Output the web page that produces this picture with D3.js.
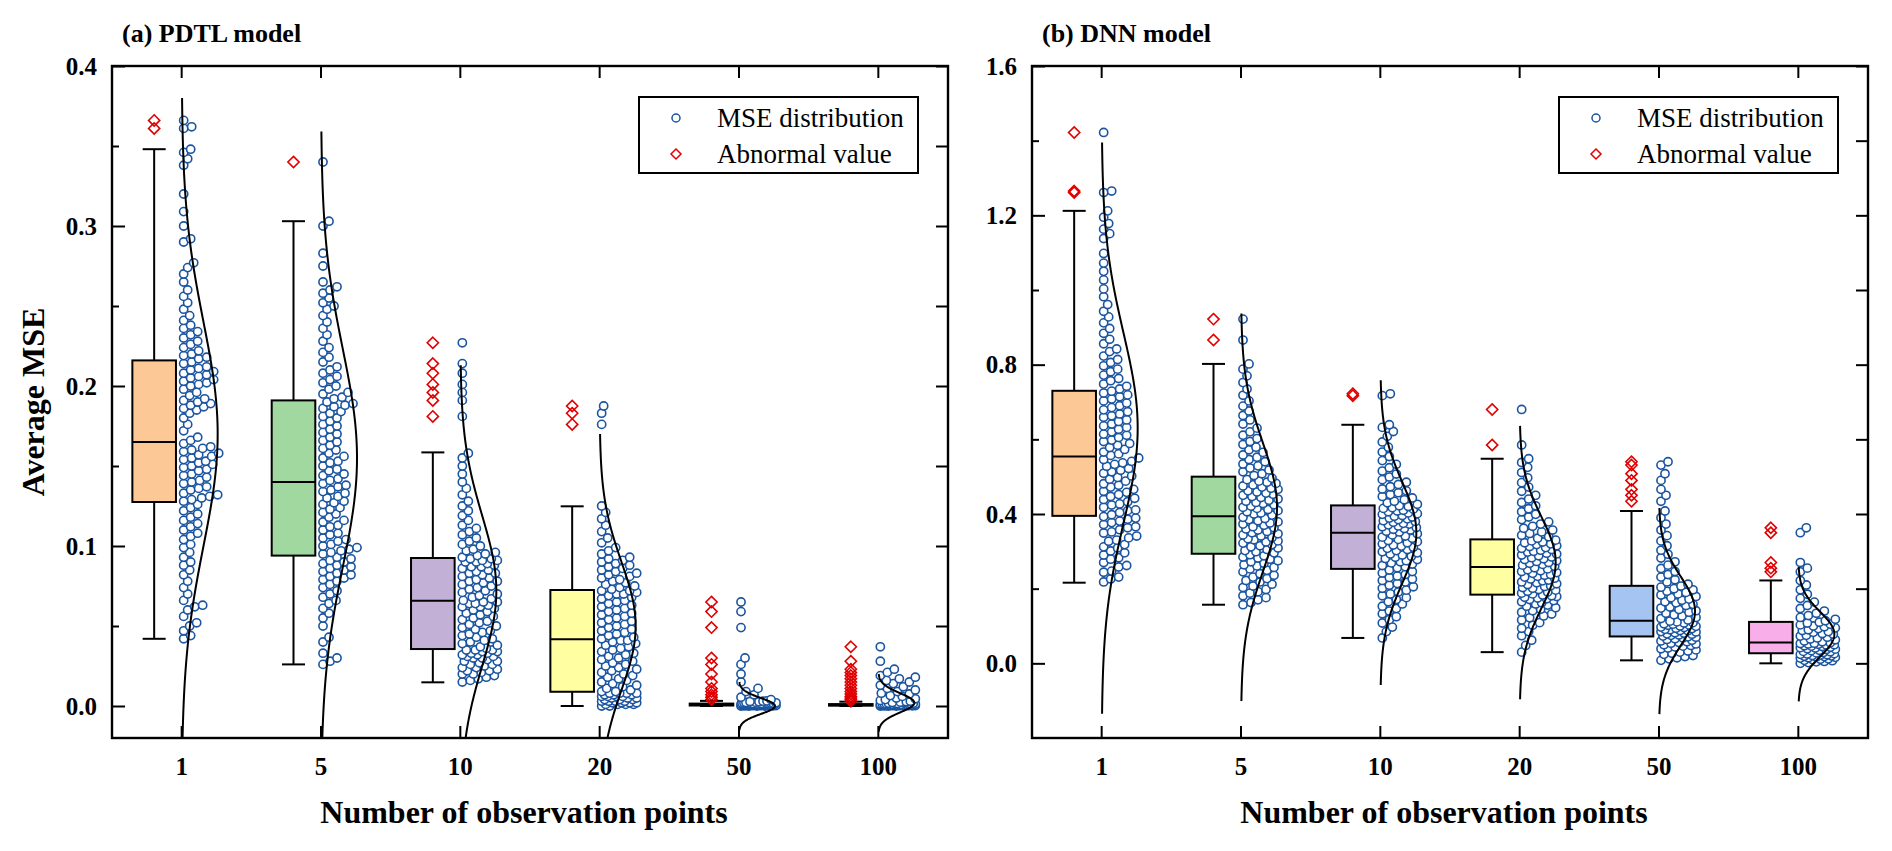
<!DOCTYPE html>
<html>
<head>
<meta charset="utf-8">
<script src="https://cdn.jsdelivr.net/npm/d3@7"></script>
<style>
  body { margin: 0; background: #fff; }
  text { font-family: "Liberation Serif", "Times New Roman", serif; }
</style>
</head>
<body>
<svg id="chart" width="1892" height="851"></svg>
<script>
// categories and colours
const categories = ["1", "5", "10", "20", "50", "100"];
const boxColors = ["#fcc896", "#a1d8a0", "#c3b0d6", "#ffffa2", "#a6c4f2", "#f8afe9"];

// ---- (a) PDTL model ----
const pdtlQ1 = [0.1275, 0.094, 0.0356, 0.0089, 0.0003, 0.0002];
const pdtlMedian = [0.165, 0.140, 0.0658, 0.0417, 0.0008, 0.0006];
const pdtlQ3 = [0.216, 0.191, 0.0925, 0.0725, 0.0015, 0.0012];
const pdtlLow = [0.042, 0.026, 0.0148, 0.0, 0.0, 0.0];
const pdtlHigh = [0.348, 0.303, 0.1585, 0.1248, 0.0032, 0.0027];
const pdtlOutliers = [
  [0.361, 0.366],
  [0.34],
  [0.181, 0.191, 0.196, 0.201, 0.208, 0.214, 0.227],
  [0.176, 0.183, 0.1875],
  [0.004, 0.0055, 0.007, 0.009, 0.011, 0.015, 0.02, 0.026, 0.03, 0.049, 0.059, 0.065],
  [0.003, 0.004, 0.005, 0.006, 0.0075, 0.009, 0.011, 0.013, 0.015, 0.017, 0.019, 0.021, 0.023, 0.028, 0.037]
];
const pdtlCurveMean = [0.17, 0.155, 0.072, 0.05, 0.0, 0.002];
const pdtlCurveSd = [0.07, 0.068, 0.047, 0.04, 0.005, 0.006];

const pdtl1 = [0.042,0.044,0.047,0.05,0.052,0.056,0.06,0.062,0.063,0.066,0.07,0.074,0.078,0.082,0.085,0.088,0.09,0.093,0.096,0.099,0.101,0.104,0.106,0.108,0.11,0.112,0.114,0.116,0.118,0.12,0.122,0.124,0.126,
  0.128,0.129,0.13,0.131,0.132,0.133,0.135,0.136,0.137,0.139,0.14,0.141,0.143,0.144,0.145,0.147,0.148,0.149,0.15,0.151,0.152,0.153,0.154,0.155,0.156,0.157,0.158,0.159,0.16,0.161,0.162,0.164,
  0.166,0.168,0.172,0.176,0.18,0.183,0.185,0.186,0.187,0.188,0.189,0.19,0.191,0.192,0.194,0.196,0.198,0.2,0.201,0.202,0.203,0.204,0.205,0.206,0.207,0.208,0.209,0.21,0.211,0.212,0.214,0.215,
  0.217,0.218,0.219,0.22,0.222,0.224,0.226,0.228,0.23,0.232,0.234,0.236,0.238,0.241,0.244,0.248,0.252,0.256,0.26,0.265,0.27,0.274,0.277,0.29,0.292,0.3,0.309,0.32,0.338,0.342,0.346,0.348,0.361,0.362,0.366];
const pdtl5 = [0.026,0.028,0.03,0.033,0.04,0.043,0.05,0.055,0.058,0.061,0.064,0.066,0.068,0.07,0.072,0.074,0.076,0.078,0.079,0.08,0.081,0.082,0.083,0.084,0.085,0.086,0.087,0.088,0.089,0.09,0.091,0.092,0.093,
  0.095,0.096,0.097,0.098,0.099,0.1,0.101,0.103,0.104,0.105,0.107,0.108,0.11,0.112,0.113,0.115,0.116,0.118,0.12,0.121,0.123,0.124,0.126,0.127,0.128,0.13,0.131,0.133,0.134,0.135,0.137,0.138,0.139,
  0.141,0.142,0.144,0.145,0.147,0.148,0.15,0.152,0.153,0.155,0.156,0.158,0.16,0.161,0.163,0.165,0.166,0.168,0.17,0.171,0.173,0.175,0.176,0.178,0.18,0.181,0.183,0.184,0.186,0.187,0.188,0.189,0.19,
  0.192,0.193,0.195,0.196,0.198,0.2,0.202,0.204,0.206,0.208,0.21,0.212,0.215,0.218,0.221,0.224,0.228,0.232,0.236,0.24,0.244,0.248,0.25,0.252,0.255,0.258,0.26,0.262,0.265,0.275,0.283,0.3,0.303,0.34];
const pdtl10 = [0.015,0.016,0.017,0.018,0.019,0.02,0.02,0.021,0.022,0.022,0.023,0.024,0.024,0.025,0.026,0.026,0.027,0.028,0.028,0.029,0.03,0.03,0.031,0.031,0.032,0.032,0.033,0.033,0.034,0.034,0.035,0.035,0.035,
  0.036,0.037,0.038,0.039,0.04,0.041,0.042,0.043,0.044,0.045,0.046,0.047,0.048,0.049,0.05,0.051,0.052,0.053,0.054,0.055,0.056,0.057,0.058,0.059,0.06,0.061,0.062,0.062,0.063,0.064,0.064,0.065,0.065,
  0.066,0.067,0.068,0.069,0.07,0.071,0.072,0.073,0.074,0.075,0.076,0.077,0.078,0.078,0.079,0.08,0.081,0.082,0.083,0.083,0.084,0.085,0.086,0.087,0.087,0.088,0.089,0.09,0.09,0.091,0.091,0.092,0.092,
  0.093,0.094,0.095,0.096,0.097,0.098,0.1,0.101,0.103,0.105,0.107,0.109,0.111,0.113,0.116,0.119,0.122,0.125,0.128,0.132,0.136,0.14,0.145,0.15,0.155,0.158,0.181,0.191,0.196,0.201,0.208,0.214,0.227];
const pdtl20 = [0.0,0.0,0.001,0.001,0.001,0.002,0.002,0.002,0.003,0.003,0.003,0.004,0.004,0.004,0.005,0.005,0.005,0.006,0.006,0.006,0.007,0.007,0.007,0.008,0.008,0.008,0.008,0.009,0.009,0.003,0.001,0.002,0.006,
  0.01,0.011,0.012,0.013,0.014,0.015,0.016,0.017,0.018,0.019,0.02,0.021,0.022,0.023,0.024,0.025,0.026,0.027,0.028,0.029,0.03,0.031,0.032,0.033,0.034,0.035,0.036,0.037,0.038,0.039,0.04,0.041,0.041,
  0.042,0.043,0.044,0.045,0.046,0.047,0.048,0.049,0.05,0.051,0.052,0.053,0.054,0.055,0.056,0.057,0.058,0.059,0.06,0.061,0.062,0.063,0.064,0.065,0.066,0.067,0.068,0.069,0.07,0.07,0.071,0.072,0.072,
  0.073,0.074,0.075,0.076,0.077,0.078,0.079,0.08,0.081,0.082,0.083,0.084,0.085,0.086,0.087,0.088,0.089,0.09,0.091,0.092,0.093,0.095,0.097,0.099,0.102,0.105,0.109,0.113,0.117,0.121,0.125,0.176,0.183,0.1875];
const pdtl50 = [0,0,0,0,0.0001,0.0002,0.0002,0.0003,0.0003,0.0004,0.0004,0.0005,0.0005,0.0006,0.0006,0.0007,0.0007,0.0008,0.0008,0.0008,0.0009,0.0009,0.001,0.001,0.0011,0.0011,0.0012,0.0012,0.0013,0.0013,0.0014,0.0014,0.0015,0.0015,0.0016,0.0017,0.0018,0.0019,0.002,0.0021,0.0022,0.0024,0.0026,0.0028,0.003,0.0032,
  0.0001,0.0003,0.0005,0.0007,0.0009,0.0011,0.0002,0.0004,0.0006,0.001,0.0012,0.0016,
  0.004,0.0055,0.007,0.009,0.011,0.015,0.02,0.026,0.03,0.049,0.059,0.065];
const pdtl100 = [0,0,0,0,0.0001,0.0001,0.0002,0.0002,0.0003,0.0003,0.0004,0.0004,0.0005,0.0005,0.0006,0.0006,0.0007,0.0007,0.0008,0.0008,0.0009,0.0009,0.001,0.001,0.0011,0.0011,0.0012,0.0012,0.0013,0.0014,0.0015,0.0016,0.0017,0.0018,0.002,0.0022,0.0024,0.0027,
  0.0002,0.0004,0.0006,0.0008,0.001,0.0003,0.0005,0.0007,
  0.003,0.004,0.005,0.006,0.0075,0.009,0.011,0.013,0.015,0.017,0.019,0.021,0.023,0.028,0.037,
  0.0035,0.0045,0.0065,0.008,0.01,0.012,0.014,0.016,0.018];
const pdtlPoints = [pdtl1, pdtl5, pdtl10, pdtl20, pdtl50, pdtl100];

// ---- (b) DNN model ----
const dnnQ1 = [0.395, 0.2935, 0.253, 0.184, 0.072, 0.027];
const dnnMedian = [0.554, 0.394, 0.350, 0.258, 0.114, 0.056];
const dnnQ3 = [0.730, 0.500, 0.423, 0.332, 0.2076, 0.111];
const dnnLow = [0.216, 0.157, 0.068, 0.030, 0.008, 0.0];
const dnnHigh = [1.212, 0.802, 0.639, 0.548, 0.408, 0.222];
const dnnOutliers = [
  [1.261, 1.265, 1.422],
  [0.866, 0.922],
  [0.717, 0.722],
  [0.585, 0.680],
  [0.434, 0.45, 0.466, 0.49, 0.508, 0.531, 0.54],
  [0.245, 0.255, 0.27, 0.35, 0.363]
];
const dnnCurveMean = [0.63, 0.418, 0.35, 0.27, 0.14, 0.078];
const dnnCurveSd = [0.255, 0.173, 0.136, 0.122, 0.092, 0.06];

const dnn1 = [0.218,0.226,0.231,0.244,0.247,0.258,0.262,0.27,0.279,0.283,0.29,0.296,0.301,0.309,0.312,0.318,0.327,0.33,0.336,0.341,0.349,0.352,0.358,0.363,0.366,0.372,0.377,0.381,0.386,0.389,0.393,
  0.398,0.404,0.409,0.411,0.418,0.424,0.427,0.433,0.439,0.442,0.447,0.452,0.458,0.461,0.466,0.472,0.477,0.481,0.488,0.493,0.498,0.502,0.509,0.513,0.517,0.522,0.528,0.533,0.537,0.541,0.546,0.55,
  0.557,0.561,0.566,0.573,0.578,0.584,0.589,0.594,0.598,0.605,0.611,0.614,0.62,0.627,0.632,0.636,0.641,0.648,0.652,0.659,0.663,0.668,0.674,0.679,0.685,0.69,0.697,0.703,0.708,0.714,0.719,0.724,0.729,
  0.735,0.742,0.748,0.757,0.763,0.772,0.781,0.788,0.797,0.806,0.814,0.823,0.835,0.842,0.856,0.868,0.884,0.897,0.912,0.928,0.943,0.961,0.982,1.003,1.027,1.05,1.072,1.098,1.138,1.151,1.163,1.178,1.195,1.212,1.261,1.265,1.422];
const dnn5 = [0.157,0.163,0.17,0.176,0.181,0.188,0.192,0.198,0.203,0.207,0.212,0.218,0.222,0.227,0.231,0.236,0.24,0.245,0.249,0.253,0.257,0.261,0.264,0.268,0.272,0.275,0.279,0.282,0.285,0.288,0.291,
  0.296,0.299,0.302,0.305,0.309,0.312,0.315,0.318,0.322,0.325,0.328,0.331,0.334,0.337,0.341,0.344,0.347,0.35,0.353,0.357,0.36,0.363,0.366,0.37,0.373,0.376,0.379,0.382,0.385,0.388,0.391,
  0.397,0.4,0.403,0.406,0.409,0.412,0.415,0.418,0.421,0.425,0.428,0.431,0.434,0.437,0.44,0.444,0.447,0.45,0.453,0.456,0.459,0.462,0.466,0.469,0.472,0.475,0.478,0.482,0.485,0.488,0.492,0.496,
  0.503,0.508,0.513,0.518,0.523,0.529,0.534,0.54,0.546,0.552,0.558,0.565,0.572,0.579,0.586,0.594,0.602,0.611,0.62,0.63,0.641,0.652,0.664,0.676,0.689,0.703,0.718,0.735,0.752,0.77,0.788,0.802,0.866,0.922];
const dnn10 = [0.068,0.085,0.097,0.108,0.117,0.125,0.133,0.14,0.147,0.153,0.159,0.165,0.171,0.176,0.181,0.186,0.191,0.196,0.201,0.205,0.209,0.214,0.218,0.222,0.226,0.23,0.234,0.238,0.242,0.246,0.25,
  0.256,0.259,0.262,0.266,0.269,0.272,0.275,0.278,0.281,0.284,0.287,0.29,0.293,0.296,0.299,0.302,0.305,0.308,0.311,0.314,0.317,0.32,0.323,0.326,0.329,0.332,0.335,0.338,0.341,0.344,0.347,
  0.352,0.354,0.357,0.359,0.361,0.364,0.366,0.368,0.371,0.373,0.375,0.378,0.38,0.382,0.385,0.387,0.389,0.392,0.394,0.396,0.399,0.401,0.403,0.406,0.408,0.41,0.413,0.415,0.417,0.42,0.422,
  0.426,0.43,0.434,0.438,0.443,0.447,0.452,0.457,0.462,0.467,0.473,0.479,0.485,0.492,0.499,0.507,0.515,0.524,0.533,0.543,0.554,0.566,0.579,0.593,0.608,0.621,0.632,0.639,0.717,0.722];
const dnn20 = [0.03,0.048,0.062,0.074,0.085,0.094,0.102,0.109,0.116,0.122,0.127,0.132,0.137,0.141,0.145,0.149,0.153,0.156,0.159,0.162,0.165,0.168,0.171,0.173,0.175,0.177,0.179,0.181,0.183,
  0.186,0.188,0.191,0.193,0.196,0.198,0.201,0.203,0.206,0.208,0.211,0.213,0.216,0.218,0.221,0.223,0.226,0.228,0.231,0.233,0.236,0.238,0.241,0.243,0.246,0.248,0.251,0.253,0.256,
  0.26,0.263,0.265,0.268,0.27,0.273,0.275,0.278,0.28,0.283,0.285,0.288,0.29,0.293,0.295,0.298,0.3,0.303,0.305,0.308,0.31,0.313,0.315,0.318,0.32,0.323,0.325,0.328,0.33,
  0.335,0.339,0.343,0.348,0.352,0.357,0.362,0.367,0.373,0.379,0.385,0.392,0.399,0.406,0.414,0.422,0.431,0.44,0.45,0.461,0.472,0.484,0.497,0.511,0.525,0.538,0.548,0.585,0.68];
const dnn50 = [0.008,0.012,0.015,0.018,0.021,0.024,0.027,0.03,0.033,0.036,0.039,0.041,0.044,0.046,0.048,0.05,0.052,0.054,0.056,0.058,0.06,0.062,0.064,0.066,0.068,0.07,0.071,
  0.073,0.075,0.076,0.078,0.079,0.081,0.082,0.084,0.085,0.087,0.088,0.09,0.091,0.093,0.094,0.096,0.097,0.099,0.1,0.102,0.103,0.105,0.106,0.108,0.109,0.111,0.113,
  0.116,0.12,0.123,0.127,0.13,0.134,0.137,0.141,0.144,0.148,0.151,0.155,0.158,0.162,0.165,0.169,0.172,0.176,0.179,0.183,0.186,0.19,0.193,0.197,0.2,0.204,0.207,
  0.212,0.218,0.224,0.231,0.238,0.246,0.254,0.263,0.272,0.282,0.292,0.303,0.315,0.328,0.342,0.357,0.373,0.39,0.408,0.434,0.45,0.466,0.49,0.508,0.531,0.54];
const dnn100 = [0.0,0.002,0.004,0.005,0.007,0.008,0.01,0.011,0.012,0.014,0.015,0.016,0.017,0.018,0.019,0.02,0.021,0.022,0.023,0.024,0.025,0.026,
  0.028,0.029,0.031,0.032,0.034,0.035,0.037,0.038,0.039,0.041,0.042,0.043,0.045,0.046,0.047,0.049,0.05,0.051,0.052,0.053,0.054,0.055,
  0.058,0.06,0.063,0.065,0.068,0.07,0.073,0.075,0.078,0.08,0.083,0.085,0.088,0.09,0.093,0.095,0.098,0.1,0.103,0.105,0.108,0.11,
  0.114,0.118,0.123,0.128,0.134,0.14,0.147,0.155,0.164,0.174,0.185,0.197,0.21,0.222,0.245,0.255,0.27,0.35,0.363];
const dnnPoints = [dnn1, dnn5, dnn10, dnn20, dnn50, dnn100];

const svg = d3.select("#chart");

// beeswarm: each point goes to the smallest offset right of the centre line that is free
function swarm(values, y, minOff, maxOff, d) {
  const placed = [];
  const sorted = values.slice().sort((a, b) => a - b);
  sorted.forEach(v => {
    const py = y(v);
    const near = placed.filter(q => Math.abs(q.y - py) < d);
    let best = minOff, bestD = -1;
    for (let x = minOff; x <= maxOff; x += 1) {
      let m = Infinity;
      near.forEach(q => { const dd = Math.hypot(q.x - x, q.y - py); if (dd < m) m = dd; });
      if (m >= d) { best = x; break; }
      if (m > bestD) { bestD = m; best = x; }
    }
    placed.push({ x: best, y: py });
  });
  return placed;
}

function drawPanel(p) {
  const g = svg.append("g");
  const x = d3.scaleBand().domain(categories).range([p.left, p.right]);
  const y = d3.scaleLinear().domain(p.domain).range([738, 66]);
  const cx = c => x(c) + x.bandwidth() / 2;
  const boxOff = -27.5, boxW = 43.6, capW = 23;

  // title
  g.append("text").attr("x", p.left + 10).attr("y", 42)
    .attr("font-size", 26).attr("font-weight", "bold").text(p.title);

  // scatter points
  categories.forEach((c, i) => {
    const pts = swarm(p.points[i], y, 2, 37, 7.4);
    g.append("g").selectAll("circle").data(pts).join("circle")
      .attr("cx", d => cx(c) + d.x).attr("cy", d => d.y).attr("r", 4.1)
      .attr("fill", "#fff").attr("stroke", "#1b55a0").attr("stroke-width", 1.6);
  });

  // normal curves
  categories.forEach((c, i) => {
    const m = p.mean[i], s = p.sd[i];
    const lo = Math.max(p.domain[0], m - 3 * s), hi = Math.min(p.domain[1], m + 3 * s);
    const vals = d3.range(0, 161).map(k => lo + (hi - lo) * k / 160);
    g.append("path").datum(vals)
      .attr("d", d3.line().x(v => cx(c) + 36 * Math.exp(-0.5 * ((v - m) / s) ** 2)).y(v => y(v)))
      .attr("fill", "none").attr("stroke", "#000").attr("stroke-width", 2);
  });

  // boxes
  categories.forEach((c, i) => {
    const bx = cx(c) + boxOff;
    const bg = g.append("g");
    bg.append("line").attr("x1", bx).attr("x2", bx).attr("y1", y(p.high[i])).attr("y2", y(p.low[i]))
      .attr("stroke", "#000").attr("stroke-width", 2);
    [p.high[i], p.low[i]].forEach(v => bg.append("line")
      .attr("x1", bx - capW / 2).attr("x2", bx + capW / 2).attr("y1", y(v)).attr("y2", y(v))
      .attr("stroke", "#000").attr("stroke-width", 2));
    bg.append("rect").attr("x", bx - boxW / 2).attr("width", boxW)
      .attr("y", y(p.q3[i])).attr("height", y(p.q1[i]) - y(p.q3[i]))
      .attr("fill", boxColors[i]).attr("stroke", "#000").attr("stroke-width", 2);
    bg.append("line").attr("x1", bx - boxW / 2).attr("x2", bx + boxW / 2)
      .attr("y1", y(p.median[i])).attr("y2", y(p.median[i]))
      .attr("stroke", "#000").attr("stroke-width", 2);
    bg.selectAll("path").data(p.outliers[i]).join("path")
      .attr("d", "M0,-5.6L5.6,0L0,5.6L-5.6,0Z")
      .attr("transform", v => `translate(${bx},${y(v)})`)
      .attr("fill", "none").attr("stroke", "#e00000").attr("stroke-width", 1.6);
  });

  // axes
  const styleAxis = a => { a.select(".domain").remove(); a.selectAll("line").attr("stroke-width", 2); };
  g.append("g").attr("transform", `translate(${p.left},0)`)
    .call(d3.axisLeft(y).tickValues(p.major).tickSize(-13).tickPadding(15).tickFormat(d3.format(".1f")))
    .call(styleAxis)
    .selectAll("text").attr("font-family", "Liberation Serif").attr("font-size", 25).attr("font-weight", "bold");
  g.append("g").attr("transform", `translate(${p.left},0)`)
    .call(d3.axisLeft(y).tickValues(p.minor).tickSize(-7).tickFormat(""))
    .call(styleAxis);
  g.append("g").attr("transform", `translate(${p.right},0)`)
    .call(d3.axisRight(y).tickValues(p.major.concat(p.minor)).tickSize(-12).tickFormat(""))
    .call(styleAxis);
  g.append("g").attr("transform", "translate(0,738)")
    .call(d3.axisBottom(x).tickSize(-12).tickPadding(19))
    .call(styleAxis)
    .selectAll("text").attr("font-family", "Liberation Serif").attr("font-size", 25).attr("font-weight", "bold");
  g.append("g").attr("transform", "translate(0,66)")
    .call(d3.axisTop(x).tickSize(-12).tickFormat(""))
    .call(styleAxis);
  g.append("rect").attr("x", p.left).attr("y", 66).attr("width", p.right - p.left).attr("height", 672)
    .attr("fill", "none").attr("stroke", "#000").attr("stroke-width", 2.4);

  // x title
  g.append("text").attr("x", (p.left + p.right) / 2 - 6).attr("y", 823)
    .attr("text-anchor", "middle").attr("font-size", 32).attr("font-weight", "bold")
    .text("Number of observation points");

  // legend
  const lx = p.right - 309, ly = 97;
  const lg = g.append("g").attr("transform", `translate(${lx},${ly})`);
  lg.append("rect").attr("width", 279).attr("height", 76)
    .attr("fill", "#fff").attr("stroke", "#000").attr("stroke-width", 2);
  lg.append("circle").attr("cx", 37).attr("cy", 21).attr("r", 4)
    .attr("fill", "#fff").attr("stroke", "#1b55a0").attr("stroke-width", 1.5);
  lg.append("path").attr("d", "M0,-5L5,0L0,5L-5,0Z").attr("transform", "translate(37,57)")
    .attr("fill", "none").attr("stroke", "#e00000").attr("stroke-width", 1.5);
  lg.append("text").attr("x", 78).attr("y", 21).attr("dy", "0.35em").attr("font-size", 27).text("MSE distribution");
  lg.append("text").attr("x", 78).attr("y", 57).attr("dy", "0.35em").attr("font-size", 27).text("Abnormal value");
}

drawPanel({
  title: "(a) PDTL model", left: 112, right: 948, domain: [-0.02, 0.4],
  major: [0, 0.1, 0.2, 0.3, 0.4], minor: [0.05, 0.15, 0.25, 0.35],
  q1: pdtlQ1, median: pdtlMedian, q3: pdtlQ3, low: pdtlLow, high: pdtlHigh,
  outliers: pdtlOutliers, points: pdtlPoints, mean: pdtlCurveMean, sd: pdtlCurveSd
});
drawPanel({
  title: "(b) DNN model", left: 1032, right: 1868, domain: [-0.2, 1.6],
  major: [0, 0.4, 0.8, 1.2, 1.6], minor: [0.2, 0.6, 1.0, 1.4],
  q1: dnnQ1, median: dnnMedian, q3: dnnQ3, low: dnnLow, high: dnnHigh,
  outliers: dnnOutliers, points: dnnPoints, mean: dnnCurveMean, sd: dnnCurveSd
});

// y title
svg.append("text").attr("transform", "translate(44,402) rotate(-90)")
  .attr("text-anchor", "middle").attr("font-size", 32).attr("font-weight", "bold").text("Average MSE");
</script>
</body>
</html>
